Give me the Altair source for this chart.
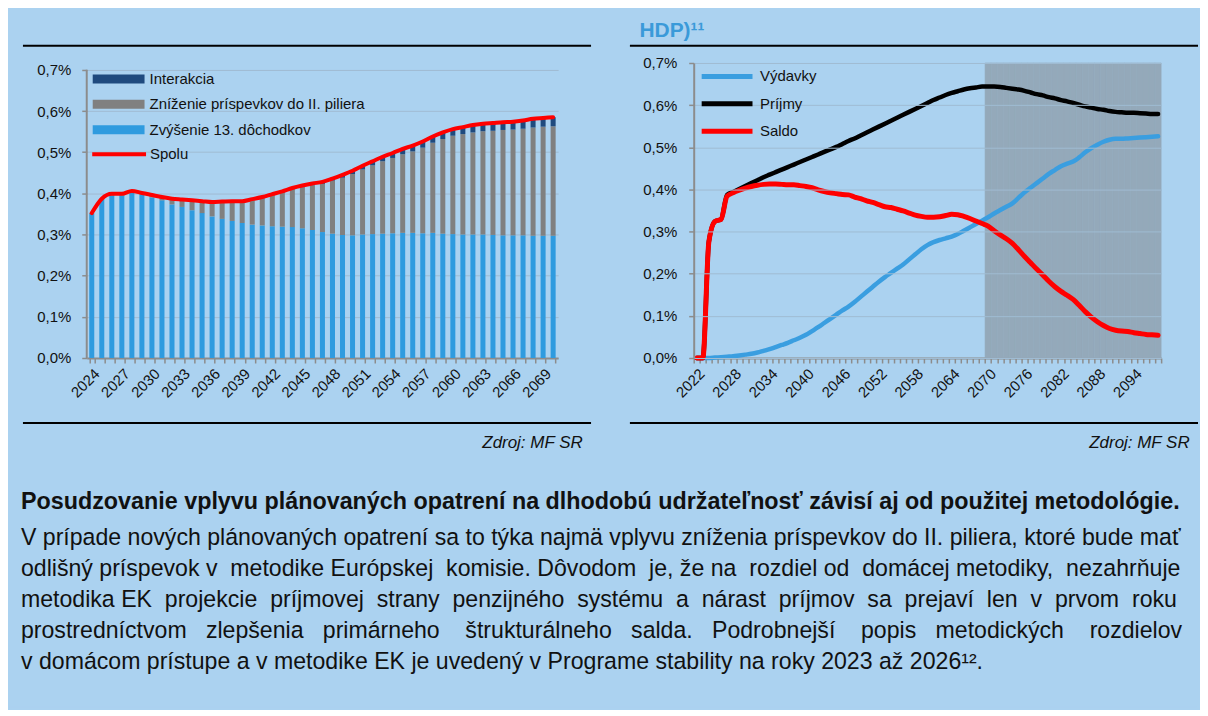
import altair as alt
import pandas as pd

BG = "#ABD2F0"
FONT = "Liberation Sans, Arial, Helvetica, sans-serif"
TXT = "#111111"
AXC = "#8C8C8C"
GRID = "#A0BCD3"
SHADE = "#94A9BA"

# ---------------- left chart data ----------------
years_left = list(range(2024, 2071))
zvysenie = [0.350, 0.385, 0.394, 0.394, 0.402, 0.396, 0.390, 0.383, 0.373, 0.367,
            0.359, 0.352, 0.344, 0.338, 0.333, 0.328, 0.324, 0.322, 0.320, 0.319,
            0.318, 0.315, 0.311, 0.306, 0.302, 0.299, 0.298, 0.300, 0.301, 0.302,
            0.303, 0.304, 0.304, 0.303, 0.304, 0.302, 0.301, 0.300, 0.300, 0.300,
            0.299, 0.298, 0.298, 0.298, 0.297, 0.297, 0.297]
znizenie = [0.002, 0.002, 0.005, 0.005, 0.004, 0.005, 0.006, 0.008, 0.014, 0.018,
            0.024, 0.029, 0.035, 0.042, 0.048, 0.053, 0.061, 0.067, 0.076, 0.083,
            0.092, 0.100, 0.109, 0.117, 0.129, 0.139, 0.149, 0.158, 0.167, 0.176,
            0.183, 0.191, 0.198, 0.208, 0.219, 0.230, 0.239, 0.244, 0.248, 0.251,
            0.253, 0.256, 0.257, 0.259, 0.263, 0.265, 0.266]
interakcia = [0.000, 0.000, 0.000, 0.000, 0.000, 0.000, 0.000, 0.000, 0.000, 0.000,
              0.000, 0.000, 0.000, 0.000, 0.000, 0.000, 0.001, 0.002, 0.002, 0.003,
              0.003, 0.004, 0.004, 0.005, 0.005, 0.007, 0.008, 0.009, 0.010, 0.011,
              0.012, 0.013, 0.014, 0.015, 0.015, 0.016, 0.016, 0.017, 0.018, 0.018,
              0.019, 0.019, 0.019, 0.020, 0.021, 0.021, 0.022]
spolu = [0.352, 0.387, 0.399, 0.399, 0.406, 0.401, 0.396, 0.391, 0.387, 0.385,
         0.383, 0.381, 0.379, 0.380, 0.381, 0.381, 0.386, 0.391, 0.398, 0.405,
         0.413, 0.419, 0.424, 0.428, 0.436, 0.445, 0.455, 0.467, 0.478, 0.489,
         0.498, 0.508, 0.516, 0.526, 0.538, 0.548, 0.556, 0.561, 0.566, 0.569,
         0.571, 0.573, 0.574, 0.577, 0.581, 0.583, 0.585]
series_left = ["Interakcia", "Zníženie príspevkov do II. piliera", "Zvýšenie 13. dôchodkov"]
colors_left = ["#1F4A7E", "#808080", "#2F9BDF"]
left_ticks = [0.0, 0.1, 0.2, 0.3, 0.4, 0.5, 0.6, 0.7]

# ---------------- right chart data ----------------
years_right = list(range(2022, 2099))
vydavky = [0.000, 0.000, 0.000, 0.001, 0.002, 0.003, 0.004, 0.006, 0.008, 0.010,
           0.013, 0.017, 0.021, 0.026, 0.031, 0.036, 0.042, 0.048, 0.055, 0.064,
           0.073, 0.083, 0.093, 0.103, 0.113, 0.122, 0.133, 0.145, 0.157, 0.169,
           0.181, 0.192, 0.202, 0.212, 0.222, 0.234, 0.246, 0.258, 0.268, 0.275,
           0.280, 0.284, 0.288, 0.294, 0.302, 0.310, 0.318, 0.326, 0.334, 0.343,
           0.351, 0.359, 0.367, 0.380, 0.393, 0.404, 0.415, 0.426, 0.437, 0.446,
           0.455, 0.461, 0.466, 0.476, 0.488, 0.498, 0.506, 0.513, 0.518, 0.520,
           0.520, 0.521, 0.522, 0.523, 0.524, 0.525, 0.526]
prijmy = [0.000, 0.000, 0.276, 0.324, 0.329, 0.387, 0.394, 0.401, 0.408, 0.415,
          0.422, 0.429, 0.435, 0.441, 0.447, 0.453, 0.459, 0.465, 0.471, 0.477,
          0.483, 0.489, 0.495, 0.501, 0.508, 0.515, 0.521, 0.528, 0.535, 0.542,
          0.549, 0.556, 0.563, 0.570, 0.577, 0.584, 0.591, 0.598, 0.605, 0.612,
          0.618, 0.624, 0.629, 0.633, 0.637, 0.640, 0.642, 0.644, 0.644, 0.644,
          0.643, 0.641, 0.639, 0.637, 0.634, 0.630, 0.626, 0.623, 0.619, 0.616,
          0.612, 0.609, 0.605, 0.601, 0.597, 0.594, 0.591, 0.589, 0.586, 0.584,
          0.583, 0.582, 0.582, 0.581, 0.580, 0.579, 0.579]
saldo = [0.000, 0.000, 0.276, 0.324, 0.329, 0.384, 0.392, 0.398, 0.403, 0.407,
         0.410, 0.412, 0.413, 0.413, 0.412, 0.411, 0.411, 0.409, 0.407, 0.404,
         0.399, 0.395, 0.392, 0.390, 0.388, 0.387, 0.382, 0.378, 0.373, 0.369,
         0.364, 0.359, 0.357, 0.353, 0.349, 0.344, 0.339, 0.336, 0.334, 0.334,
         0.335, 0.338, 0.341, 0.340, 0.336, 0.331, 0.325, 0.319, 0.313, 0.302,
         0.292, 0.283, 0.272, 0.257, 0.241, 0.226, 0.211, 0.197, 0.182, 0.169,
         0.158, 0.149, 0.139, 0.125, 0.110, 0.097, 0.086, 0.077, 0.070, 0.066,
         0.064, 0.063, 0.060, 0.058, 0.056, 0.055, 0.054]
series_right = ["Výdavky", "Príjmy", "Saldo"]
colors_right = ["#3A9EE0", "#000000", "#FF0000"]
shade_from = 2070
right_ticks = [0.0, 0.1, 0.2, 0.3, 0.4, 0.5, 0.6, 0.7]

right_title = "HDP)¹¹"
source_text = "Zdroj: MF SR"
paragraph_bold = "Posudzovanie vplyvu plánovaných opatrení na dlhodobú udržateľnosť závisí aj od použitej metodológie."
paragraph_lines = [
    "V prípade nových plánovaných opatrení sa to týka najmä vplyvu zníženia príspevkov do II. piliera, ktoré bude mať",
    "odlišný príspevok v metodike Európskej komisie. Dôvodom je, že na rozdiel od domácej metodiky, nezahrňuje",
    "metodika EK projekcie príjmovej strany penzijného systému a nárast príjmov sa prejaví len v prvom roku",
    "prostredníctvom zlepšenia primárneho štrukturálneho salda. Podrobnejší popis metodických rozdielov",
    "v domácom prístupe a v metodike EK je uvedený v Programe stability na roky 2023 až 2026¹².",
]
# extra non-breaking spaces per line to imitate the justified paragraph
paragraph_extra = [0, 6, 14, 19, 0]

# ---------------- layout constants ----------------
W_L, W_R, H = 473, 469, 296
PCT = "replace(format(datum.value, '.1f'), '.', ',') + '%'"

one = pd.DataFrame({"t": [""]})


def justify(line, extra):
    words = line.split(" ")
    gaps = len(words) - 1
    out = words[0]
    for g in range(gaps):
        k = (extra * (g + 1)) // gaps - (extra * g) // gaps
        out += " " + "\u00a0" * k + words[g + 1]
    return out


def deco_text(text, x, y, **kw):
    return alt.Chart(pd.DataFrame({"t": [text]})).mark_text(**kw).encode(
        x=alt.value(x), y=alt.value(y), text="t:N")


def deco_hrule(x1, x2, y, color="black", width=2):
    return alt.Chart(one).mark_rule(color=color, strokeWidth=width).encode(
        x=alt.value(x1), x2=alt.value(x2), y=alt.value(y))


# ---------------- left chart ----------------
n = len(years_left)
bars_df = pd.DataFrame({
    "year": years_left * 3,
    "series": [series_left[2]] * n + [series_left[1]] * n + [series_left[0]] * n,
    "value": zvysenie + znizenie + interakcia,
    "order": [0] * n + [1] * n + [2] * n,
})
spolu_df = pd.DataFrame({"year": years_left, "value": spolu, "series": ["Spolu"] * n})

x_left = alt.X(
    "year:O", title=None,
    scale=alt.Scale(paddingInner=0.5, paddingOuter=0.25),
    axis=alt.Axis(labelExpr="(datum.value - 2024) % 3 == 0 ? datum.label : ''",
                  labelAngle=-45, labelOverlap=False, tickBand="extent",
                  tickSize=5, tickWidth=1.5, tickColor=AXC, domainColor=AXC,
                  domainWidth=2, labelPadding=3, grid=False),
)
y_left_scale = alt.Scale(domain=[0, 0.7167], nice=False, zero=True)

bars = alt.Chart(bars_df).mark_bar().encode(
    x=x_left,
    y=alt.Y("value:Q", stack="zero", scale=y_left_scale, title=None,
            axis=alt.Axis(values=left_ticks, labelExpr=PCT, grid=True, gridColor=GRID,
                          gridWidth=1, domain=False, tickSize=5, tickWidth=1.5,
                          tickColor=AXC, labelPadding=11)),
    color=alt.Color("series:N", scale=alt.Scale(domain=series_left, range=colors_left),
                    legend=alt.Legend(orient="none", legendX=22, legendY=6, title=None,
                                      symbolType="M-2.6,-0.45H2.6V0.45H-2.6Z", symbolSize=400,
                                      symbolStrokeWidth=0, labelOffset=21, rowPadding=7.5,
                                      padding=0, labelLimit=400)),
    order=alt.Order("order:Q", sort="ascending"),
)

spolu_line = alt.Chart(spolu_df).mark_line(
    strokeWidth=4, interpolate="monotone", strokeCap="round", strokeJoin="round"
).encode(
    x=alt.X("year:O"),
    y=alt.Y("value:Q", title=None),
    stroke=alt.Stroke("series:N", scale=alt.Scale(domain=["Spolu"], range=["#FF0000"]),
                      legend=alt.Legend(orient="none", legendX=20.5, legendY=79.5, title=None,
                                        symbolType="M-2.7,0H2.7", symbolSize=400,
                                        symbolStrokeWidth=4, labelOffset=19, padding=0)),
)

y_axis_line = alt.Chart(one).mark_rule(color=AXC, strokeWidth=2).encode(
    x=alt.value(0), y=alt.datum(0), y2=alt.datum(0.7))

left_layers = [
    bars, spolu_line, y_axis_line,
    deco_hrule(-64, 506, -17.3),
    deco_hrule(-64, 506, 361.3),
    deco_text(source_text, 497.6, 386, align="right", baseline="alphabetic",
              font=FONT, fontSize=17, fontStyle="italic", color=TXT),
    deco_text(paragraph_bold, -66, 448, align="left", baseline="alphabetic",
              font=FONT, fontSize=23.4, fontWeight="bold", color=TXT),
]
for i, line in enumerate(paragraph_lines):
    left_layers.append(deco_text(justify(line, paragraph_extra[i]), -66, 484 + 31 * i,
                                 align="left", baseline="alphabetic",
                                 font=FONT, fontSize=23.2, color=TXT))
# page-extent guides in background colour
left_layers.append(deco_hrule(-77.5, 1113.5, -52.5, color=BG, width=1))
left_layers.append(deco_hrule(-77.5, 1113.5, 646.5, color=BG, width=1))

left = alt.layer(*left_layers).properties(width=W_L, height=H)

# ---------------- right chart ----------------
lines_df = pd.DataFrame({
    "year": years_right * 3,
    "series": [series_right[0]] * len(years_right) + [series_right[1]] * len(years_right)
              + [series_right[2]] * len(years_right),
    "value": vydavky + prijmy + saldo,
})
shade_df = pd.DataFrame({"year": [y for y in years_right if y >= shade_from]})

x_right = alt.X(
    "year:O", title=None,
    scale=alt.Scale(paddingInner=0, paddingOuter=0),
    axis=alt.Axis(labelExpr="(datum.value - 2022) % 6 == 0 ? datum.label : ''",
                  labelAngle=-45, labelOverlap=False, tickBand="extent",
                  tickSize=5, tickWidth=1.5, tickColor=AXC, domainColor=AXC,
                  domainWidth=2, labelPadding=3, grid=False),
)
y_right_scale = alt.Scale(domain=[0, 0.7], nice=False, zero=True)

shade = alt.Chart(shade_df).mark_bar(color=SHADE, stroke=SHADE, strokeWidth=0.6).encode(
    x=x_right,
    y=alt.Y(datum=0.7, scale=y_right_scale, title=None,
            axis=alt.Axis(values=right_ticks, labelExpr=PCT, grid=True, gridColor=GRID,
                          gridWidth=1, domainColor=AXC, domainWidth=2, tickSize=5,
                          tickWidth=1.5, tickColor=AXC, labelPadding=12, zindex=1)),
    y2=alt.datum(0),
)

stroke_enc = alt.Stroke("series:N", scale=alt.Scale(domain=series_right, range=colors_right),
                        legend=alt.Legend(orient="none", legendX=21, legendY=1, title=None,
                                          symbolType="M-2.55,0H2.55", symbolSize=400,
                                          symbolStrokeWidth=5, labelOffset=20.5, rowPadding=4.5,
                                          padding=0, zindex=2))


def right_line(name, width):
    return alt.Chart(lines_df).transform_filter(alt.datum.series == name).mark_line(
        strokeWidth=width, interpolate="monotone", strokeCap="round", strokeJoin="round"
    ).encode(x=alt.X("year:O"), y=alt.Y("value:Q", title=None), stroke=stroke_enc)


right = alt.layer(
    shade,
    right_line("Výdavky", 4.5),
    right_line("Príjmy", 4.5),
    right_line("Saldo", 5),
    deco_text(right_title, -54.4, -26, align="left", baseline="alphabetic",
              font=FONT, fontSize=21, fontWeight="bold", color="#3A9AD9"),
    deco_hrule(-64, 506, -17.3),
    deco_hrule(-64, 506, 361.3),
    deco_text(source_text, 497.6, 386, align="right", baseline="alphabetic",
              font=FONT, fontSize=17, fontStyle="italic", color=TXT),
).properties(width=W_R, height=H)

chart = alt.hconcat(left, right, spacing=136, bounds="flush").resolve_scale(
    color="independent", stroke="independent"
).resolve_legend(
    color="independent", stroke="independent"
).properties(
    padding={"left": 0, "top": 0, "right": 0, "bottom": 0}
).configure(
    background=BG, font=FONT
).configure_view(
    stroke="transparent"
).configure_axis(
    labelFont=FONT, labelFontSize=15, labelColor=TXT
).configure_legend(
    labelFont=FONT, labelFontSize=15, labelColor=TXT
)

chart.save("out.html", embed_options={"renderer": "svg", "actions": False})
